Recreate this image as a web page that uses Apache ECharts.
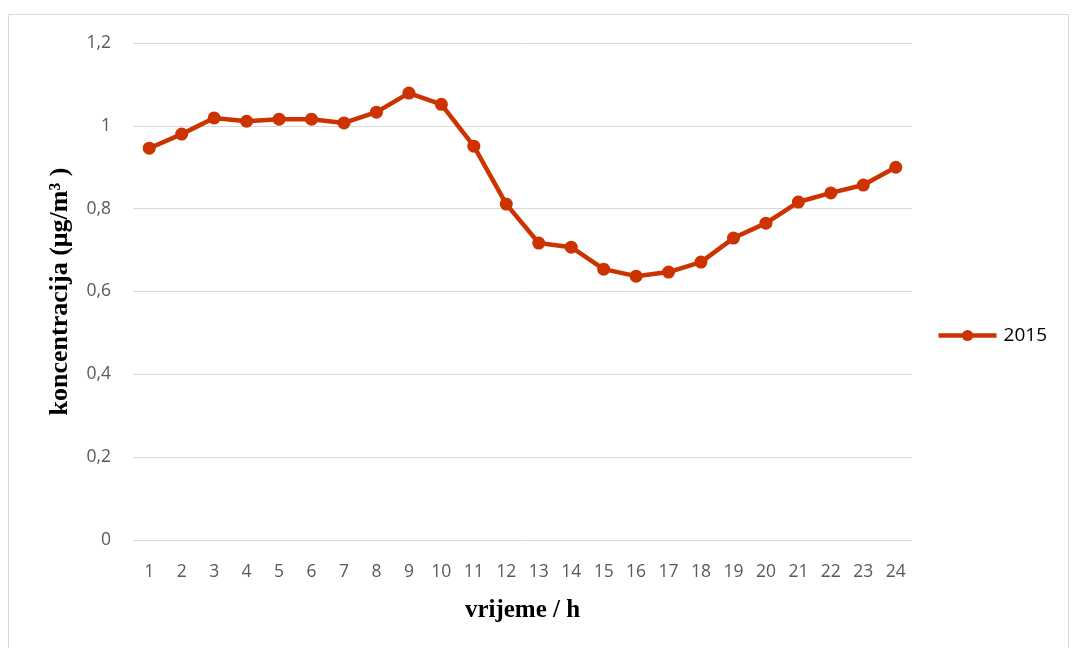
<!DOCTYPE html>
<html><head><meta charset="utf-8">
<script src="https://cdn.jsdelivr.net/npm/echarts@6/dist/echarts.min.js"></script>
<style>html,body{margin:0;padding:0;background:#fff}#c{width:1078px;height:648px}</style>
</head><body><div id="c"></div>
<script>
const hours = ['1','2','3','4','5','6','7','8','9','10','11','12','13','14','15','16','17','18','19','20','21','22','23','24'];
const values2015 = [0.946,0.980,1.019,1.011,1.016,1.016,1.007,1.033,1.079,1.052,0.951,0.811,0.717,0.707,0.654,0.637,0.647,0.671,0.729,0.765,0.816,0.838,0.857,0.900];
const seriesName = '2015';
const yTitle = 'koncentracija (μg/m³ )';
const xTitle = 'vrijeme / h';

const chart = echarts.init(document.getElementById('c'));
chart.setOption({
  animation:false,
  graphic:[{type:'rect',shape:{x:8.5,y:14.5,width:1060,height:650},style:{fill:'none',stroke:'#d9d9d9',lineWidth:1}}],
  grid:{left:133,right:166,top:43,bottom:108},
  legend:{data:[seriesName],right:26,top:321,itemWidth:58,itemHeight:14,itemGap:0,
    lineStyle:{width:4.5},
    textStyle:{fontFamily:'Open Sans',fontSize:19,color:'#000',padding:[0,0,0,2]}},
  xAxis:{type:'category',data:hours,boundaryGap:true,
    axisLine:{show:false},axisTick:{show:false},
    axisLabel:{fontFamily:'Open Sans',fontSize:17.5,color:'#595959',margin:23},
    name:xTitle,nameLocation:'middle',nameGap:58,
    nameTextStyle:{fontFamily:'Liberation Serif',fontWeight:'bold',fontSize:25,color:'#000'}},
  yAxis:{type:'value',min:0,max:1.2,interval:0.2,
    axisLine:{show:false},axisTick:{show:false},
    splitLine:{lineStyle:{color:'#d9d9d9',width:1}},
    axisLabel:{fontFamily:'Open Sans',fontSize:17.5,color:'#595959',margin:22,
      formatter:v=>(Math.round(v*10)/10).toString().replace('.',',')},
    name:yTitle,nameLocation:'middle',nameGap:60,nameRotate:90,
    nameTextStyle:{fontFamily:'Liberation Serif',fontWeight:'bold',fontSize:26,color:'#000'}},
  series:[{name:seriesName,type:'line',data:values2015,symbol:'circle',symbolSize:13,
    lineStyle:{color:'#CC3300',width:4.5},itemStyle:{color:'#CC3300'}}]
});
</script></body></html>
